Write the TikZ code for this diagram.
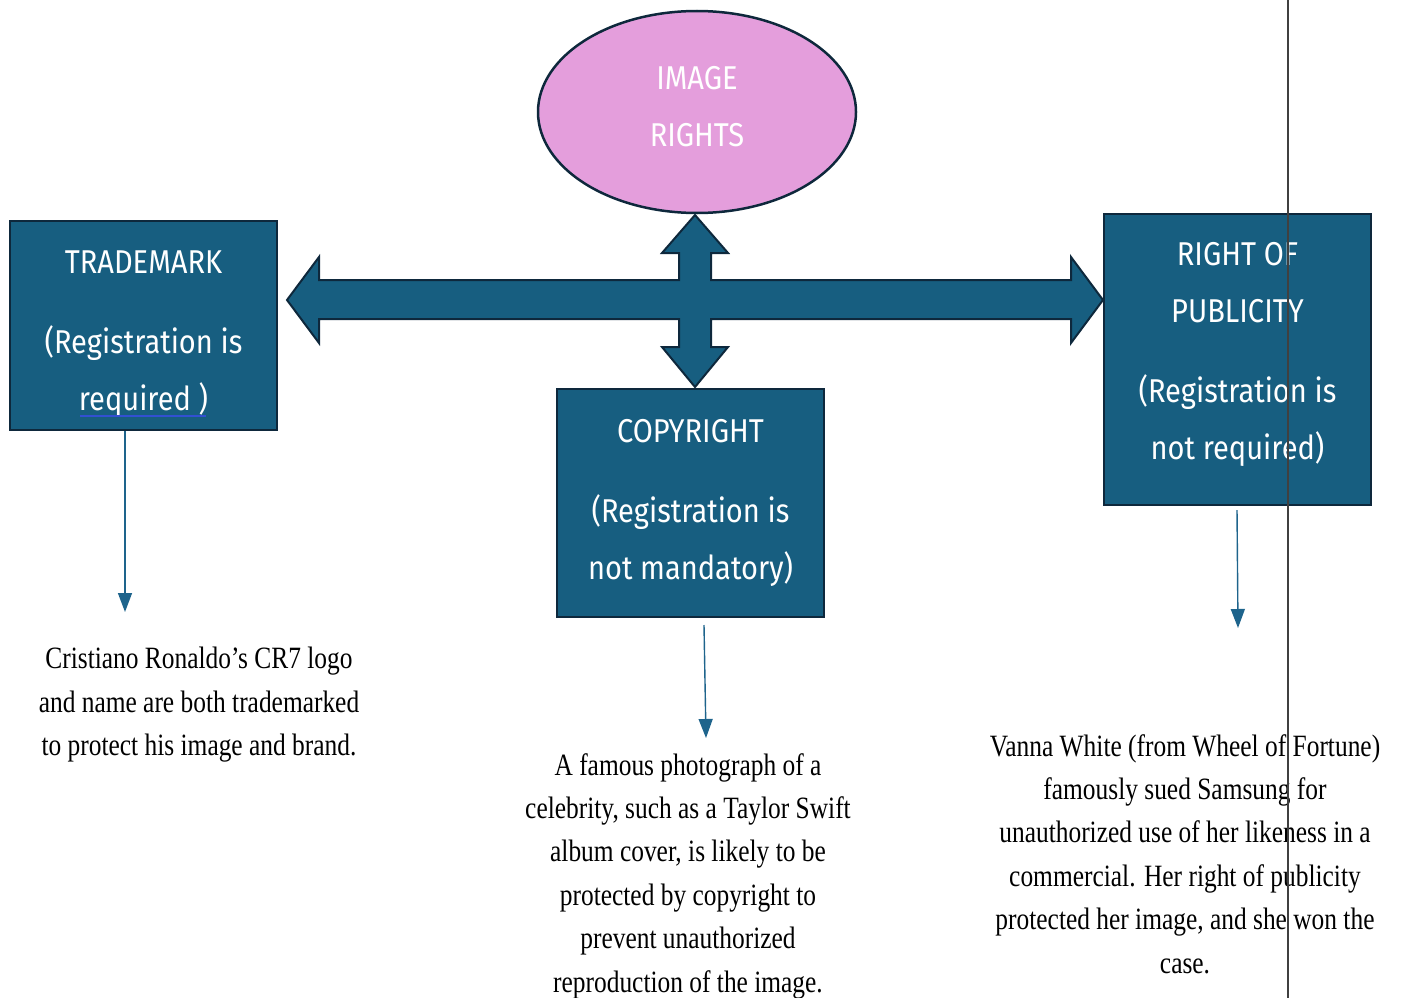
\documentclass[tikz,border=0pt]{standalone}
\usepackage{fontspec}
\setmainfont{Liberation Serif}[FakeStretch=0.82]
\newfontfamily\boxfont{Fira Sans}[FakeStretch=0.88]
\usetikzlibrary{shapes.geometric,arrows.meta}
\definecolor{boxfill}{RGB}{23,94,128}
\definecolor{boxline}{RGB}{14,40,60}
\definecolor{pinkfill}{RGB}{228,158,220}
\definecolor{thinblue}{RGB}{30,100,140}
\definecolor{ulblue}{RGB}{50,80,210}
\tikzset{
  bluebox/.style={draw=boxline, line width=2.5pt, fill=boxfill,
    inner sep=0pt, minimum width=267pt},
  boxtext/.style={text=white, align=center, inner sep=0pt,
    font=\boxfont\fontsize{33}{57}\selectfont},
  ovalnode/.style={ellipse, draw=boxline, line width=2.5pt, fill=pinkfill,
    inner sep=0pt, minimum width=318pt, minimum height=202pt},
  crossarrow/.style={draw=boxline, line width=2pt, fill=boxfill, line join=miter},
  thinarrow/.style={draw=thinblue, line width=1.4pt, -{Triangle[width=14pt,length=19pt]}},
  bodytext/.style={align=center, inner sep=0pt, anchor=north,
    font=\fontsize{31}{43.4}\selectfont}
}
\begin{document}
\begin{tikzpicture}[x=1pt,y=-1pt]
\useasboundingbox (0,0) rectangle (1421,998);

% central cross arrow
\draw[crossarrow] (695,215) -- (728,253) -- (711,253) -- (711,280) -- (1071,280)
  -- (1071,257) -- (1103,300) -- (1071,343) -- (1071,319) -- (711,319) -- (711,347)
  -- (728,347) -- (695,387) -- (662,347) -- (679,347) -- (679,319) -- (319,319)
  -- (319,343) -- (287,300) -- (319,257) -- (319,280) -- (679,280) -- (679,253)
  -- (662,253) -- cycle;

\node[ovalnode] (img) at (697,112) {};
\node[boxtext, yshift=5pt] (imglabel) at (img.center) {IMAGE\\RIGHTS};

\node[bluebox, minimum height=209pt] (tm) at (143.5,325.5) {};
\node[boxtext, yshift=-9pt] (tmlabel) at (tm.center)
  {TRADEMARK\\[23pt](Registration is\\required )};
\node[bluebox, minimum height=228pt] (cp) at (690.5,503) {};
\node[boxtext] (cplabel) at (cp.center)
  {COPYRIGHT\\[23pt](Registration is\\not mandatory)};
\node[bluebox, minimum height=291pt] (rp) at (1237.5,359.5) {};
\node[boxtext, yshift=5pt] (rplabel) at (rp.center)
  {RIGHT OF\\PUBLICITY\\[23pt](Registration is\\not required)};

% spell-check underline under "required )"
\coordinate (ulA) at (80,416);
\coordinate (ulB) at (206,416);
\draw[ulblue, line width=1.2pt] (ulA) -- (ulB);

% thin arrows
\coordinate (tmend) at (125,612);
\coordinate (cpstart) at (704,625);
\coordinate (cpend) at (706,738);
\coordinate (rpstart) at (1237,510);
\coordinate (rpend) at (1238,628);
\draw[thinarrow] (tm.south -| tmend) -- (tmend);
\draw[thinarrow] (cpstart) -- (cpend);
\draw[thinarrow] (rpstart) -- (rpend);

% body texts
\node[bodytext] (tmtext) at (199,647)
  {Cristiano Ronaldo’s CR7 logo\\and name are both trademarked\\to protect his image and brand.};
\node[bodytext] (cptext) at (688,753)
  {A famous photograph of a\\celebrity, such as a Taylor Swift\\album cover, is likely to be\\protected by copyright to\\prevent unauthorized\\reproduction of the image.};
\node[bodytext] (rptext) at (1185,734)
  {Vanna White (from Wheel of Fortune)\\famously sued Samsung for\\unauthorized use of her likeness in a\\commercial. Her right of publicity\\protected her image, and she won the\\case.};

% vertical page-edge line
\coordinate (vlA) at (1288,0);
\coordinate (vlB) at (1288,998);
\draw[black!75, line width=2pt] (vlA) -- (vlB);
\end{tikzpicture}
\end{document}
